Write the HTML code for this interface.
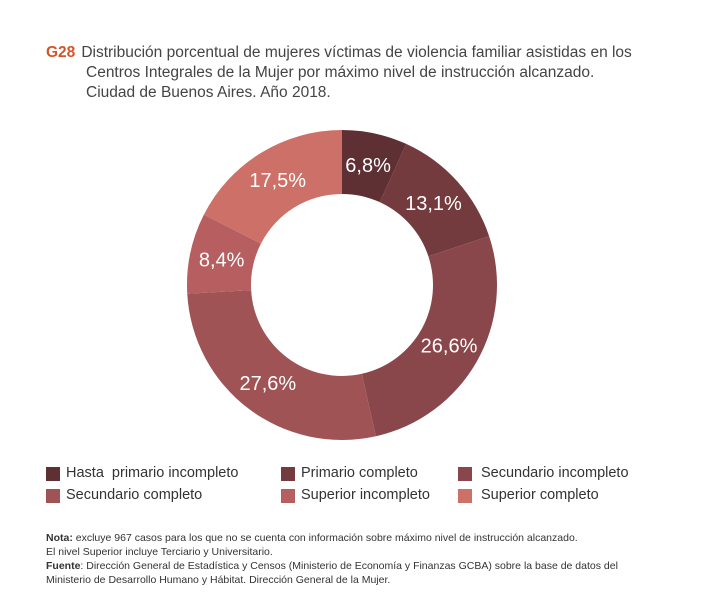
<!DOCTYPE html>
<html><head><meta charset="utf-8"><style>
body{margin:0;background:#fff;font-family:"Liberation Sans",sans-serif;}
.wrap{position:relative;width:715px;height:616px;overflow:hidden;}
.title{position:absolute;left:46px;top:43px;font-size:15.5px;line-height:20px;color:#444;}
.title b{color:#d2552a;margin-right:6px;}
.leg{position:absolute;font-size:14.5px;color:#333;}
.sw{position:absolute;width:14px;height:14px;}
.notes{position:absolute;left:46px;top:531px;font-size:10.5px;line-height:14px;color:#333;}
</style></head><body>
<div class="wrap">
<div class="title"><b>G28</b>Distribución porcentual de mujeres víctimas de violencia familiar asistidas en los<br><span style="margin-left:40px">Centros Integrales de la Mujer por máximo nivel de instrucción alcanzado.</span><br><span style="margin-left:40px">Ciudad de Buenos Aires. Año 2018.</span></div>
<svg id="chart" width="715" height="616" style="position:absolute;left:0;top:0"></svg>
<div id="legend"></div>
<div class="notes"><b>Nota:</b> excluye 967 casos para los que no se cuenta con información sobre máximo nivel de instrucción alcanzado.<br>El nivel Superior incluye Terciario y Universitario.<br><b>Fuente</b>: Dirección General de Estadística y Censos (Ministerio de Economía y Finanzas GCBA) sobre la base de datos del<br>Ministerio de Desarrollo Humano y Hábitat. Dirección General de la Mujer.</div>
</div>
<script>
const categories=["Hasta  primario incompleto","Primario completo","Secundario incompleto","Secundario completo","Superior incompleto","Superior completo"];
const values=[6.8,13.1,26.6,27.6,8.4,17.5];
const valueLabels=["6,8%","13,1%","26,6%","27,6%","8,4%","17,5%"];
const colors=["#5e2f33","#733b3e","#8a474b","#a05355","#b65e60","#cc7068"];
const svg=document.getElementById('chart');
const NS="http://www.w3.org/2000/svg";
const cx=342,cy=285,R=155,r=91;
const total=values.reduce((a,b)=>a+b,0);
function pt(a,rad){return [cx+rad*Math.sin(a),cy-rad*Math.cos(a)];}
let acc=0;
values.forEach((v,i)=>{
  const a0=acc/total*2*Math.PI;acc+=v;const a1=acc/total*2*Math.PI;
  const large=(a1-a0)>Math.PI?1:0;
  const [x0,y0]=pt(a0,R),[x1,y1]=pt(a1,R),[x2,y2]=pt(a1,r),[x3,y3]=pt(a0,r);
  const p=document.createElementNS(NS,'path');
  p.setAttribute('d',`M${x0},${y0}A${R},${R} 0 ${large} 1 ${x1},${y1}L${x2},${y2}A${r},${r} 0 ${large} 0 ${x3},${y3}Z`);
  p.setAttribute('fill',colors[i]);
  
  
  svg.appendChild(p);
  const am=(a0+a1)/2;const [lx,ly]=pt(am,(R+r)/2);
  const t=document.createElementNS(NS,'text');
  t.setAttribute('x',lx);t.setAttribute('y',ly+7);
  t.setAttribute('text-anchor','middle');t.setAttribute('fill','#fff');
  t.setAttribute('font-size','20');t.setAttribute('font-family','Liberation Sans, sans-serif');
  t.textContent=valueLabels[i];
  
  
  svg.appendChild(t);
});
const lg=document.getElementById('legend');
const lx=[46,281,458],ly=[467,489];
categories.forEach((c,i)=>{
  const col=i%3,row=Math.floor(i/3);
  const s=document.createElement('div');s.className='sw';
  s.style.left=lx[col]+'px';s.style.top=ly[row]+'px';s.style.background=colors[i];
  
  
  lg.appendChild(s);
  const t=document.createElement('div');t.className='leg';
  t.style.left=(lx[col]+(col==2?23:20))+'px';t.style.top=(ly[row]-2)+'px';
  t.textContent=c;t.style.whiteSpace='pre';
  
  
  lg.appendChild(t);
});
</script>
</body></html>
